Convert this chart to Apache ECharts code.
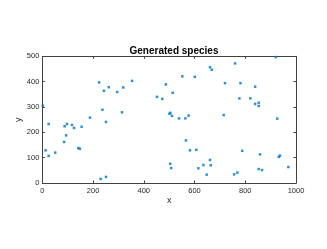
<!DOCTYPE html>
<html>
<head>
<meta charset="utf-8">
<script src="https://cdn.jsdelivr.net/npm/echarts@6/dist/echarts.min.js"></script>
<style>html,body{margin:0;padding:0;background:#fff}#c{width:327px;height:249px}</style>
</head>
<body>
<div id="c"></div>
<script>
var titleText = 'Generated species';
var xName = 'x';
var yName = 'y';
var xTicks = [0, 200, 400, 600, 800, 1000];
var yTicks = [0, 100, 200, 300, 400, 500];
var xs = [224,262,243,319,295,2,237,314,188,661,668,354,552,601,487,514,452,473,501,505,511,539,564,577,920,760,720,781,839,777,820,853,839,853,715,926,251,25,97,117,88,125,155,94,86,142,148,13,51,25,251,230,566,582,607,661,635,664,615,504,508,648,788,858,937,932,970,853,866,769,756];
var ys = [397,378,364,377,359,305,289,279,258,457,447,403,421,419,389,356,340,332,273,277,265,255,255,266,497,472,394,394,380,334,334,317,312,304,268,254,241,233,233,229,224,217,222,188,162,138,135,129,120,107,24,16,168,129,131,91,71,70,58,76,59,33,127,113,108,103,63,55,51,41,34];

var pts = xs.map(function(x, i){ return [x, ys[i]]; });
var font = 'Liberation Sans, Helvetica, Arial, sans-serif';
var axCol = '#404040';
var txtCol = '#262626';

function xAx(pos, show){
  return {
    type: 'value', position: pos, min: xTicks[0], max: xTicks[xTicks.length-1], interval: xTicks[1]-xTicks[0],
    name: show ? xName : '', nameLocation: 'middle', nameGap: 13, nameMoveOverlap: false,
    nameTextStyle: {fontFamily: font, fontSize: 9, color: txtCol},
    axisLine: {show: true, onZero: false, lineStyle: {color: axCol, width: 1}},
    axisTick: {show: true, inside: true, length: 2.5, lineStyle: {color: axCol}},
    axisLabel: {show: show, margin: 4, fontFamily: font, fontSize: 7.5, color: txtCol,
      formatter: function(v){ return String(v); }},
    splitLine: {show: false}
  };
}
function yAx(pos, show){
  return {
    type: 'value', position: pos, min: yTicks[0], max: yTicks[yTicks.length-1], interval: yTicks[1]-yTicks[0],
    name: show ? yName : '', nameLocation: 'middle', nameGap: 19, nameMoveOverlap: false,
    nameTextStyle: {fontFamily: font, fontSize: 9, color: txtCol},
    axisLine: {show: true, onZero: false, lineStyle: {color: axCol, width: 1}},
    axisTick: {show: true, inside: true, length: 2.5, lineStyle: {color: axCol}},
    axisLabel: {show: show, margin: 3, fontFamily: font, fontSize: 7.5, color: txtCol,
      formatter: function(v){ return String(v); }},
    splitLine: {show: false}
  };
}

var chart = echarts.init(document.getElementById('c'), null, {renderer: 'canvas'});
chart.setOption({
  animation: false,
  backgroundColor: '#fff',
  title: {
    text: titleText, left: 169, top: 41, textAlign: 'center',
    textStyle: {fontFamily: font, fontSize: 10, fontWeight: 'bold', color: '#000'}
  },
  grid: {left: 42.3, right: 31, top: 56.3, bottom: 66, containLabel: false},
  xAxis: [xAx('bottom', true), xAx('top', false)],
  yAxis: [yAx('left', true), yAx('right', false)],
  series: [{
    type: 'scatter', xAxisIndex: 0, yAxisIndex: 0,
    data: pts, symbol: 'rect', symbolSize: 2.5,
    itemStyle: {color: '#0072BD'}
  }]
});
</script>
</body>
</html>
